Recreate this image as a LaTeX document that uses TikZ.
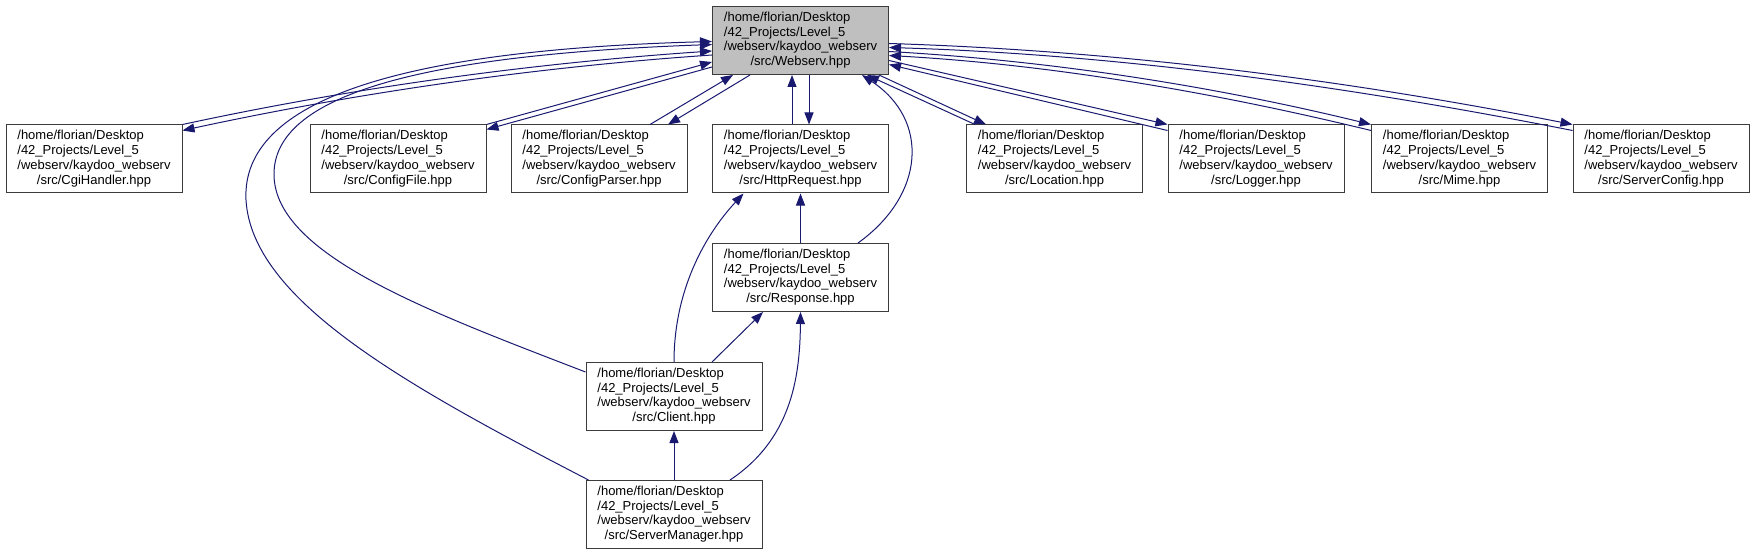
\documentclass[tikz,border=0pt]{standalone}
\usepackage{fontspec}
\setmainfont{Liberation Sans}
\definecolor{midblue}{RGB}{25,25,112}
\definecolor{boxgray}{RGB}{191,191,191}
\definecolor{rimgray}{RGB}{60,60,60}
\usetikzlibrary{arrows.meta,calc}
\newcommand{\srcpath}[1]{\begin{tabular}{@{}l@{}}/home/florian/Desktop\\/42\_Projects/Level\_5\\/webserv/kaydoo\_webserv\\\multicolumn{1}{@{}c@{}}{/src/#1}\end{tabular}}

\begin{document}
\begin{tikzpicture}[x=1pt,y=-1pt,
  >={Triangle[length=12pt,width=9pt]},
  hf/.style={draw=rimgray,line width=1pt,fill=white,minimum width=176pt,minimum height=68pt,inner sep=0pt,font=\fontsize{13}{14.8}\selectfont},
  hm/.style={hf,fill=boxgray},
  ln/.style={draw=midblue,line width=1pt}]
  \useasboundingbox (0,0) rectangle (1752,556);
  % included header
  \node[hm] (webserv) at (800.5,40.5) {\srcpath{Webserv.hpp}};
  % first row
  \node[hf] (cgi)    at (94,159)     {\srcpath{CgiHandler.hpp}};
  \node[hf] (cfile)  at (398,159)    {\srcpath{ConfigFile.hpp}};
  \node[hf] (cparse) at (599,159)    {\srcpath{ConfigParser.hpp}};
  \node[hf] (httpreq) at (800.5,159) {\srcpath{HttpRequest.hpp}};
  \node[hf] (loc)    at (1054.5,159) {\srcpath{Location.hpp}};
  \node[hf] (logger) at (1256,159)   {\srcpath{Logger.hpp}};
  \node[hf] (mime)   at (1459.5,159) {\srcpath{Mime.hpp}};
  \node[hf] (sconf)  at (1661,159)   {\srcpath{ServerConfig.hpp}};
  % lower rows
  \node[hf] (resp)   at (800.5,277.5) {\srcpath{Response.hpp}};
  \node[hf] (client) at (674,396.5)   {\srcpath{Client.hpp}};
  \node[hf] (smgr)   at (674,514.5)   {\srcpath{ServerManager.hpp}};
  % cycles with Webserv.hpp - left side
  \draw[ln,<-] ([yshift=-10.5pt]webserv.west) .. controls +(-176,12) and +(176,-38) .. (cgi.north east);
  \draw[ln,->] ([yshift=-14.5pt]webserv.west) .. controls +(-176,12) and +(176,-38) .. ([yshift=-6pt]cgi.north east);
  \draw[ln,<-] ([yshift=-21.5pt]webserv.west) -- (cfile.north east);
  \draw[ln,->] ([yshift=-26.5pt]webserv.west) -- ([yshift=-5pt]cfile.north east);
  \draw[ln,<-] ([xshift=21pt]webserv.south west) -- ([xshift=51pt]cparse.north);
  \draw[ln,->] ([xshift=38pt]webserv.south west) -- ([xshift=69pt]cparse.north);
  \draw[ln,<-] ([xshift=-8.5pt]webserv.south) -- ([xshift=-8.5pt]httpreq.north);
  \draw[ln,->] ([xshift=8.5pt]webserv.south) -- ([xshift=8.5pt]httpreq.north);
  % cycles with Webserv.hpp - right side
  \draw[ln,<-] ([xshift=-22pt]webserv.south east) -- ([xshift=9pt]loc.north west);
  \draw[ln,->] ([xshift=-10pt]webserv.south east) -- ([xshift=20pt]loc.north west);
  \draw[ln,->] ([yshift=-20pt]webserv.east) -- (logger.north west);
  \draw[ln,<-] ([yshift=-24pt]webserv.east) -- ([yshift=-6pt]logger.north west);
  \draw[ln,->] ([yshift=-11pt]webserv.east) .. controls +(160,9) and +(-160,-39) .. (mime.north west);
  \draw[ln,<-] ([yshift=-15pt]webserv.east) .. controls +(160,9) and +(-160,-39) .. ([yshift=-6pt]mime.north west);
  \draw[ln,->] ([yshift=-3pt]webserv.east) .. controls +(228,7) and +(-228,-45) .. (sconf.north west);
  \draw[ln,<-] ([yshift=-7pt]webserv.east) .. controls +(228,7) and +(-228,-45) .. ([yshift=-6pt]sconf.north west);
  % lower includes
  \draw[ln,->] (resp.north) -- (httpreq.south);
  \draw[ln,->] ([xshift=57.5pt]resp.north) .. controls (925,195) and (930,120) .. ([xshift=-27pt]webserv.south east);
  \draw[ln,->] (client.north) .. controls (674,290) and (705,235) .. ([xshift=-57pt]httpreq.south);
  \draw[ln,->] ([xshift=38pt]client.north) -- ([xshift=-37.5pt]resp.south);
  \draw[ln,->] ([yshift=24.5pt]client.west) .. controls (430,312) and (275,255) .. (274,175)
    .. controls (273,95) and (420,55) .. ([yshift=-4pt]webserv.west);
  \draw[ln,->] (smgr.north) -- (client.south);
  \draw[ln,->] ([xshift=56pt]smgr.north) .. controls (790,440) and (800,380) .. (resp.south);
  \draw[ln,->] ([xshift=3pt]smgr.north west) .. controls (405,385) and (252,300) .. (246,200)
    .. controls (241,100) and (400,50) .. ([yshift=-1pt]webserv.west);
\end{tikzpicture}
\end{document}
